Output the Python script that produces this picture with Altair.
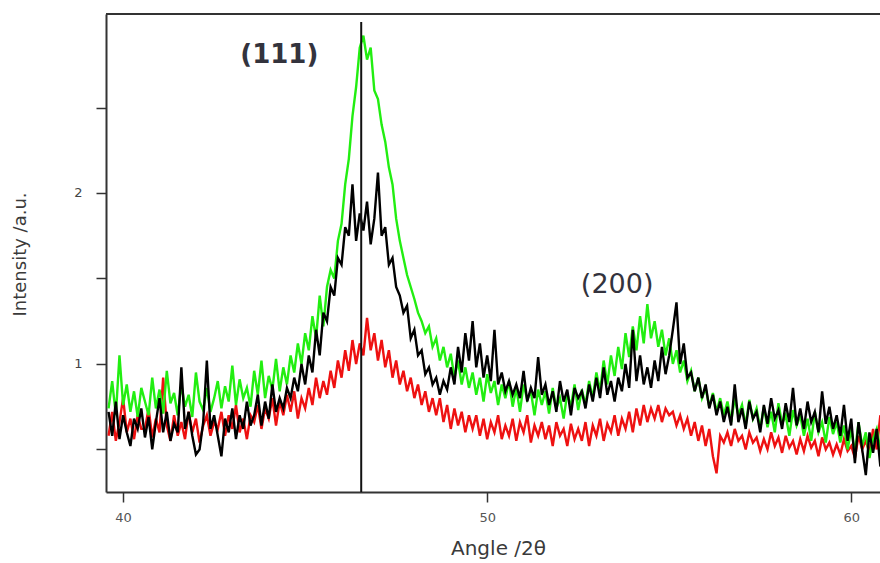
import altair as alt
import pandas as pd

# Diffraction scan: 0.1 degree steps from 39.6 to 60.8 (2-theta)
START = 39.6
STEP = 0.1

green = [
    0.74, 0.90, 0.70, 1.05, 0.76, 0.88, 0.72, 0.84, 0.69, 0.86,
    0.78, 0.70, 0.92, 0.74, 0.85, 0.71, 0.96, 0.77, 0.83, 0.70,
    0.88, 0.75, 0.82, 0.69, 0.95, 0.78, 0.73, 0.86, 0.72, 0.80,
    0.90, 0.74, 0.87, 0.78, 0.99, 0.76, 0.91, 0.80, 0.86, 0.75,
    0.96, 0.82, 1.02, 0.80, 0.93, 0.85, 1.03, 0.84, 0.98, 0.88,
    1.05, 0.95, 1.12, 1.00, 1.18, 1.08, 1.28, 1.15, 1.40, 1.22,
    1.45, 1.55, 1.50, 1.72, 1.82, 2.05, 2.20, 2.45, 2.62, 2.85,
    2.92, 2.78, 2.85, 2.60, 2.55, 2.40, 2.30, 2.15, 2.05, 1.85,
    1.72, 1.62, 1.52, 1.45, 1.38, 1.30, 1.25, 1.18, 1.22, 1.10,
    1.15, 1.02, 1.10, 0.98, 1.06, 0.92, 1.02, 0.88, 0.98, 0.86,
    0.95, 0.82, 0.92, 0.78, 0.94, 0.83, 0.90, 0.76, 0.88, 0.80,
    0.90, 0.75, 0.86, 0.72, 0.88, 0.79, 0.84, 0.70, 0.85, 0.76,
    0.84, 0.71, 0.86, 0.74, 0.80, 0.68, 0.83, 0.75, 0.88, 0.73,
    0.85, 0.76, 0.90, 0.80, 0.95, 0.84, 1.02, 0.88, 1.05, 0.93,
    1.10, 0.97, 1.18, 1.04, 1.22, 1.08, 1.28, 1.12, 1.35, 1.15,
    1.25, 1.10, 1.20, 1.05, 1.15, 1.00, 1.08, 0.95, 1.02, 0.90,
    0.96, 0.84, 0.92, 0.80, 0.86, 0.75, 0.83, 0.72, 0.80, 0.70,
    0.78, 0.66, 0.80, 0.70, 0.76, 0.64, 0.79, 0.68, 0.74, 0.62,
    0.75, 0.63, 0.72, 0.60, 0.77, 0.65, 0.70, 0.58, 0.73, 0.64,
    0.70, 0.58, 0.68, 0.55, 0.72, 0.60, 0.66, 0.54, 0.69, 0.59,
    0.66, 0.54, 0.64, 0.50, 0.62, 0.48, 0.66, 0.52, 0.60, 0.45,
    0.56, 0.62, 0.50,
]

black = [
    0.72, 0.58, 0.78, 0.56, 0.70, 0.60, 0.52, 0.68, 0.62, 0.74,
    0.57, 0.69, 0.50, 0.66, 0.80, 0.60, 0.72, 0.55, 0.65, 0.60,
    0.98, 0.62, 0.72, 0.58, 0.47, 0.50, 0.66, 1.02, 0.62, 0.70,
    0.58, 0.46, 0.68, 0.60, 0.74, 0.56, 0.70, 0.62, 0.78, 0.64,
    0.70, 0.82, 0.64, 0.78, 0.68, 0.88, 0.72, 0.80, 0.74, 0.86,
    0.80, 0.92, 0.84, 1.00, 0.88, 1.05, 0.95, 1.20, 1.05, 1.30,
    1.25, 1.45, 1.40, 1.62, 1.58, 1.80, 1.75, 2.05, 1.72, 1.88,
    1.78, 1.95, 1.70, 1.85, 2.12, 1.75, 1.80, 1.58, 1.62, 1.45,
    1.40, 1.30, 1.34, 1.15, 1.20, 1.05, 1.08, 0.94, 0.98, 0.88,
    0.92, 0.82, 0.90, 0.85, 0.98, 0.88, 1.10, 0.95, 1.18, 1.02,
    1.25, 0.98, 1.12, 0.92, 1.05, 0.90, 1.20, 0.88, 0.95, 0.84,
    0.90, 0.82, 0.88, 0.80, 0.96, 0.78, 0.86, 0.80, 1.04, 0.82,
    0.88, 0.76, 0.84, 0.72, 0.90, 0.78, 0.85, 0.70, 0.86, 0.80,
    0.84, 0.74, 0.88, 0.78, 0.92, 0.80, 0.98, 0.82, 0.90, 0.78,
    0.92, 0.84, 1.00, 0.86, 1.20, 0.90, 1.05, 0.88, 0.98, 0.86,
    1.02, 0.90, 1.10, 0.94, 1.05, 1.20, 1.36, 1.00, 1.12, 0.92,
    0.95, 0.84, 0.92, 0.80, 0.88, 0.74, 0.82, 0.70, 0.78, 0.66,
    0.75, 0.64, 0.88, 0.66, 0.74, 0.62, 0.78, 0.68, 0.72, 0.60,
    0.76, 0.65, 0.80, 0.68, 0.73, 0.62, 0.77, 0.66, 0.86, 0.64,
    0.74, 0.62, 0.78, 0.66, 0.72, 0.60, 0.84, 0.65, 0.75, 0.62,
    0.70, 0.58, 0.76, 0.55, 0.68, 0.42, 0.66, 0.50, 0.35, 0.60,
    0.48, 0.62, 0.40,
]

red = [
    0.58, 0.72, 0.55, 0.66, 0.80, 0.60, 0.68, 0.56, 0.70, 0.62,
    0.62, 0.74, 0.57, 0.68, 0.60, 0.92, 0.64, 0.55, 0.70, 0.58,
    0.66, 0.56, 0.72, 0.60, 0.68, 0.54, 0.64, 0.70, 0.58, 0.66,
    0.62, 0.72, 0.58, 0.70, 0.62, 0.76, 0.60, 0.68, 0.56, 0.70,
    0.66, 0.76, 0.62, 0.74, 0.68, 0.80, 0.64, 0.78, 0.70, 0.82,
    0.72, 0.84, 0.68, 0.80, 0.74, 0.86, 0.76, 0.92, 0.80, 0.90,
    0.82, 0.96, 0.86, 1.02, 0.92, 1.08, 0.96, 1.14, 1.00, 1.12,
    1.05, 1.27, 1.08, 1.18, 1.02, 1.14, 0.98, 1.08, 0.92, 1.02,
    0.88, 0.96, 0.84, 0.92, 0.80, 0.88, 0.76, 0.84, 0.72, 0.80,
    0.70, 0.80, 0.66, 0.76, 0.62, 0.74, 0.64, 0.72, 0.60, 0.70,
    0.62, 0.70, 0.58, 0.68, 0.56, 0.66, 0.60, 0.70, 0.56, 0.64,
    0.58, 0.68, 0.55, 0.66, 0.60, 0.70, 0.54, 0.64, 0.58, 0.66,
    0.56, 0.64, 0.52, 0.66, 0.58, 0.62, 0.52, 0.65, 0.56, 0.62,
    0.55, 0.66, 0.52, 0.64, 0.58, 0.68, 0.55, 0.65, 0.60, 0.70,
    0.58, 0.68, 0.62, 0.72, 0.60, 0.74, 0.64, 0.76, 0.66, 0.74,
    0.68, 0.76, 0.66, 0.74, 0.70, 0.72, 0.64, 0.70, 0.62, 0.68,
    0.58, 0.66, 0.55, 0.64, 0.52, 0.62, 0.46, 0.36, 0.58, 0.54,
    0.60, 0.52, 0.62, 0.55, 0.58, 0.50, 0.60, 0.54, 0.57, 0.49,
    0.56, 0.50, 0.60, 0.52, 0.57, 0.48, 0.58, 0.51, 0.55, 0.47,
    0.56, 0.49, 0.58, 0.51, 0.55, 0.46, 0.57, 0.50, 0.54, 0.47,
    0.53, 0.47, 0.56, 0.49, 0.52, 0.45, 0.58, 0.50, 0.55, 0.48,
    0.62, 0.50, 0.70,
]

peak_labels = ["(111)", "(200)"]
peak_label_x = [44.29, 53.57]
peak_label_y = [2.81, 1.46]
peak_label_weight = ["bold", "normal"]
peak_label_size = [26, 27]

ref_line_x = 46.54
ref_line_top = 3.0

X_DOMAIN = [39.53, 60.79]
Y_DOMAIN = [0.251, 3.047]

PLOT_W = 774
PLOT_H = 478
AXIS_FONT = "DejaVu Sans"


def scan_frame(values):
    return pd.DataFrame({
        "angle": [round(START + STEP * i, 2) for i in range(len(values))],
        "intensity": values,
    })


x_enc = alt.X(
    "angle:Q",
    scale=alt.Scale(domain=X_DOMAIN, nice=False, zero=False),
    axis=alt.Axis(
        title="Angle /2θ",
        values=[40, 50, 60],
        format="d",
        tickSize=10,
        tickWidth=1.5,
        tickColor="#333",
        domainColor="#333",
        domainWidth=2,
        labelFontSize=13,
        labelColor="#555",
        labelPadding=9,
        labelFont=AXIS_FONT,
        grid=False,
        titleFont=AXIS_FONT,
        titleFontSize=20,
        titleFontWeight="normal",
        titleColor="#3a3a3a",
        titleX=392,
        titleY=46,
        titleBaseline="top",
    ),
)

y_enc = alt.Y(
    "intensity:Q",
    scale=alt.Scale(domain=Y_DOMAIN, nice=False, zero=False),
    axis=alt.Axis(
        title="Intensity /a.u.",
        values=[0.5, 1, 1.5, 2, 2.5],
        format="~g",
        labelExpr="datum.value % 1 == 0 ? datum.label : ''",
        tickSize=10,
        tickWidth=1.5,
        tickColor="#333",
        domainColor="#333",
        domainWidth=2,
        labelFontSize=13,
        labelColor="#444",
        labelPadding=14,
        labelFont=AXIS_FONT,
        grid=False,
        titleFont=AXIS_FONT,
        titleFontSize=18,
        titleFontWeight="normal",
        titleColor="#3a3a3a",
        titleX=-77,
        titleY=240,
    ),
)


def trace(values, color):
    return alt.Chart(scan_frame(values)).mark_line(
        color=color, strokeWidth=2.4, clip=True
    ).encode(x=x_enc, y=y_enc)


def peak_label(i):
    return alt.Chart(
        pd.DataFrame({
            "angle": [peak_label_x[i]],
            "intensity": [peak_label_y[i]],
            "text": [peak_labels[i]],
        })
    ).mark_text(
        font="DejaVu Sans",
        fontSize=peak_label_size[i],
        color="#33333d",
        fontWeight=peak_label_weight[i],
    ).encode(x="angle:Q", y="intensity:Q", text="text:N")


rule = alt.Chart(
    pd.DataFrame({"angle": [ref_line_x], "top": [ref_line_top], "bottom": [Y_DOMAIN[0]]})
).mark_rule(color="#111", strokeWidth=2).encode(x="angle:Q", y=alt.Y("bottom:Q"), y2="top:Q")

# top edge of the frame (the right side stays open)
top_border = alt.Chart(pd.DataFrame({"k": [0]})).mark_rule(
    color="#333", strokeWidth=2
).encode(x=alt.value(0), x2=alt.value(PLOT_W), y=alt.value(0))

chart = alt.layer(
    trace(red, "#ee1111"),
    trace(green, "#22ee11"),
    trace(black, "#000000"),
    rule,
    top_border,
    peak_label(0),
    peak_label(1),
).properties(
    width=PLOT_W,
    height=PLOT_H,
    background="white",
    autosize=alt.AutoSizeParams(type="none"),
    padding={"left": 106, "top": 14, "right": 0, "bottom": 71},
).configure_view(strokeWidth=0)

chart.save("out.html", embed_options={"renderer": "svg", "actions": False})
